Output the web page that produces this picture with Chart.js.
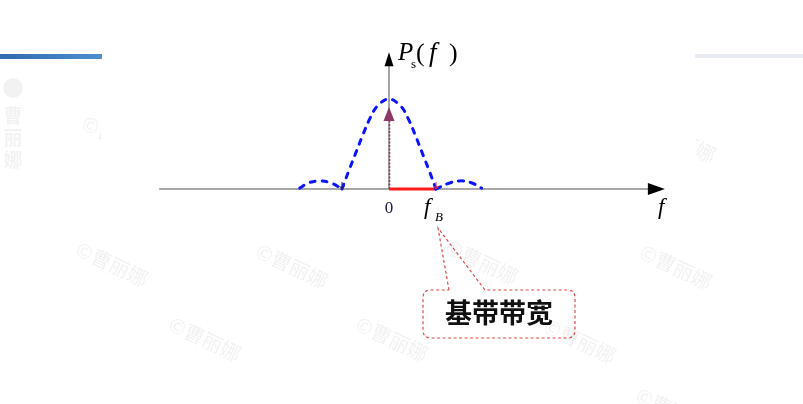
<!DOCTYPE html>
<html>
<head>
<meta charset="utf-8">
<script src="https://cdn.jsdelivr.net/npm/chart.js@4"></script>
<style>
  html, body { margin: 0; padding: 0; background: #ffffff; }
  #wrap { width: 803px; height: 404px; }
</style>
</head>
<body>
<div id="wrap"><canvas id="c" width="803" height="404"></canvas></div>
<script>
// ---- data (frequency in units of f_B, power normalised to peak) ----
const freqMain  = [-1, -0.85, -0.7, -0.55, -0.4, -0.25, 0, 0.25, 0.4, 0.55, 0.7, 0.85, 1];
const psdMain   = [0, 0.21, 0.41, 0.61, 0.79, 0.92, 1, 0.92, 0.79, 0.61, 0.41, 0.21, 0];
const freqLeftLobe  = [-1.9, -1.7, -1.45, -1.2, -1];
const psdLeftLobe   = [0.01, 0.07, 0.09, 0.06, 0];
const freqRightLobe = [1, 1.25, 1.5, 1.75, 1.97];
const psdRightLobe  = [0, 0.06, 0.09, 0.07, 0.01];
const deltaFreq   = [0];
const deltaHeight = [0.91];
const bandFreq  = [0, 1];
const bandLevel = [0, 0];
const tickLabels = ['0', 'f', 'B'];
const axisXRange = [-4.89, 5.87];
const axisYTop = 1.52;
const calloutText = '基带带宽';
const watermarkText = '©曹丽娜';

const toPts = (xs, ys) => xs.map((x, i) => ({ x: x, y: ys[i] }));

const blueStyle = {
  showLine: true, borderColor: '#0a14ff', borderWidth: 3, borderDash: [5, 7],
  borderCapStyle: 'round', pointRadius: 0, tension: 0.4, fill: false
};

const decorPlugin = {
  id: 'decor',
  beforeDatasetsDraw(chart) {
    const ctx = chart.ctx, xs = chart.scales.x, ys = chart.scales.y;
    ctx.save();
    // top decorative bars
    const g = ctx.createLinearGradient(0, 0, 102, 0);
    g.addColorStop(0, '#2f6cae'); g.addColorStop(1, '#4d8fd0');
    ctx.fillStyle = g; ctx.fillRect(0, 54, 102, 5);
    ctx.fillStyle = '#e8ebf1'; ctx.fillRect(695, 54, 108, 4);

    // watermarks
    ctx.fillStyle = 'rgba(0,0,0,0.06)';
    ctx.font = '20px "Noto Sans CJK SC"';
    ctx.textAlign = 'center'; ctx.textBaseline = 'middle';
    const wm = [[112, 264], [292, 266], [205, 339], [392, 339], [482, 262], [580, 341], [676, 267], [672, 410]];
    wm.forEach(p => {
      ctx.save(); ctx.translate(p[0], p[1]); ctx.rotate(0.44);
      ctx.fillText(watermarkText, 0, 0); ctx.restore();
    });
    // clipped watermarks at the edges of the central picture
    ctx.save(); ctx.beginPath(); ctx.rect(0, 0, 101, 404); ctx.clip();
    ctx.translate(118, 138); ctx.rotate(0.44); ctx.fillText(watermarkText, 0, 0); ctx.restore();
    ctx.save(); ctx.beginPath(); ctx.rect(696, 0, 110, 404); ctx.clip();
    ctx.translate(680, 140); ctx.rotate(0.44); ctx.fillText(watermarkText, 0, 0); ctx.restore();
    // left vertical watermark
    ctx.fillStyle = 'rgba(0,0,0,0.05)';
    ctx.beginPath(); ctx.arc(13, 88, 10, 0, Math.PI * 2); ctx.fill();
    ctx.font = 'bold 19px "Noto Sans CJK SC"';
    ['曹', '丽', '娜'].forEach((ch, i) => ctx.fillText(ch, 13, 116 + i * 22));

    // axes
    const ox = xs.getPixelForValue(0), oy = ys.getPixelForValue(0);
    const xl = xs.getPixelForValue(axisXRange[0]), xr = xs.getPixelForValue(axisXRange[1]);
    const yt = ys.getPixelForValue(axisYTop);
    ctx.strokeStyle = '#8a8a8a'; ctx.lineWidth = 1.6;
    ctx.beginPath(); ctx.moveTo(xl, oy); ctx.lineTo(xr - 14, oy); ctx.stroke();
    ctx.strokeStyle = '#6a6a6a'; ctx.lineWidth = 1.2;
    ctx.beginPath(); ctx.moveTo(ox, oy); ctx.lineTo(ox, yt + 12); ctx.stroke();
    ctx.fillStyle = '#000';
    ctx.beginPath(); ctx.moveTo(xr, oy); ctx.lineTo(xr - 17, oy - 6); ctx.lineTo(xr - 17, oy + 6); ctx.closePath(); ctx.fill();
    ctx.beginPath(); ctx.moveTo(ox, yt); ctx.lineTo(ox - 4.5, yt + 14); ctx.lineTo(ox + 4.5, yt + 14); ctx.closePath(); ctx.fill();

    // delta arrow (maroon)
    const dx = xs.getPixelForValue(deltaFreq[0]), dy = ys.getPixelForValue(deltaHeight[0]);
    ctx.strokeStyle = '#8b3a66'; ctx.lineWidth = 1.6; ctx.setLineDash([2, 1.5]);
    ctx.beginPath(); ctx.moveTo(dx + 0.5, oy); ctx.lineTo(dx + 0.5, dy + 12); ctx.stroke();
    ctx.setLineDash([]);
    ctx.fillStyle = '#8b3a66';
    ctx.beginPath(); ctx.moveTo(dx, dy); ctx.lineTo(dx - 5.5, dy + 14); ctx.lineTo(dx + 5.5, dy + 14); ctx.closePath(); ctx.fill();
    ctx.restore();
  },
  afterDatasetsDraw(chart) {
    const ctx = chart.ctx, xs = chart.scales.x, ys = chart.scales.y;
    const ox = xs.getPixelForValue(0), oy = ys.getPixelForValue(0);
    const fb = xs.getPixelForValue(bandFreq[1]);
    const yt = ys.getPixelForValue(axisYTop);
    const xr = xs.getPixelForValue(axisXRange[1]);
    ctx.save();
    // small zero markers
    ctx.lineWidth = 1;
    const zl = xs.getPixelForValue(freqLeftLobe[freqLeftLobe.length - 1]);
    [[zl, '#1a1a60'], [fb, '#ff2020']].forEach(m => {
      ctx.strokeStyle = m[1];
      ctx.beginPath(); ctx.moveTo(m[0], oy - 7); ctx.lineTo(m[0], oy);
      ctx.moveTo(m[0] - 2.5, oy - 3); ctx.lineTo(m[0], oy); ctx.lineTo(m[0] + 2.5, oy - 3); ctx.stroke();
    });

    // labels
    ctx.fillStyle = '#000'; ctx.textBaseline = 'alphabetic'; ctx.textAlign = 'left';
    ctx.font = 'italic 25px "Liberation Serif"';
    ctx.fillText('P', ox + 9, yt + 8);
    ctx.font = '13px "Liberation Serif"';
    ctx.fillText('s', ox + 22, yt + 16);
    ctx.font = '26px "Liberation Serif"';
    ctx.fillText('(', ox + 27, yt + 9);
    ctx.font = 'italic 27px "Liberation Serif"';
    ctx.fillText('f', ox + 40, yt + 9);
    ctx.font = '26px "Liberation Serif"';
    ctx.fillText(')', ox + 60, yt + 9);

    ctx.fillStyle = '#1a1a55';
    ctx.font = '17px "Liberation Serif"'; ctx.textAlign = 'center';
    ctx.fillText(tickLabels[0], ox, oy + 24);
    ctx.fillStyle = '#000';
    ctx.font = 'italic 23px "Liberation Serif"'; ctx.textAlign = 'left';
    ctx.fillText(tickLabels[1], fb - 12, oy + 25);
    ctx.font = 'italic 13px "Liberation Serif"';
    ctx.fillText(tickLabels[2], fb - 1, oy + 32);
    ctx.font = 'italic 23px "Liberation Serif"';
    ctx.fillText('f', xr - 7, oy + 25);

    // callout
    const tipX = fb + 2, tipY = oy + 39;
    const L = fb - 13, R = fb + 139, T = oy + 101, B = oy + 149, r = 8;
    const legA = fb + 13, legB = fb + 49;
    ctx.strokeStyle = '#e04a4a'; ctx.lineWidth = 1.2; ctx.setLineDash([3, 2.5]);
    ctx.beginPath();
    ctx.moveTo(legA, T);
    ctx.lineTo(tipX, tipY);
    ctx.lineTo(legB, T);
    ctx.lineTo(R - r, T); ctx.quadraticCurveTo(R, T, R, T + r);
    ctx.lineTo(R, B - r); ctx.quadraticCurveTo(R, B, R - r, B);
    ctx.lineTo(L + r, B); ctx.quadraticCurveTo(L, B, L, B - r);
    ctx.lineTo(L, T + r); ctx.quadraticCurveTo(L, T, L + r, T);
    ctx.lineTo(legA, T);
    ctx.stroke();
    ctx.setLineDash([]);
    ctx.fillStyle = '#111';
    ctx.font = 'bold 27px "Noto Sans CJK SC"'; ctx.textAlign = 'center'; ctx.textBaseline = 'middle';
    ctx.fillText(calloutText, (L + R) / 2 + 0, (T + B) / 2 - 1);
    ctx.restore();
  }
};

const pxPerX = 47, pxPerY = 90, originX = 389, originY = 189, W = 803, H = 404;

new Chart(document.getElementById('c'), {
  type: 'scatter',
  data: {
    datasets: [
      Object.assign({ data: toPts(freqMain, psdMain), order: 1 }, blueStyle),
      Object.assign({ data: toPts(freqLeftLobe, psdLeftLobe), order: 1 }, blueStyle),
      Object.assign({ data: toPts(freqRightLobe, psdRightLobe), order: 1 }, blueStyle),
      { data: toPts(bandFreq, bandLevel), showLine: true, borderColor: '#ff1a1a', borderWidth: 3.2,
        pointRadius: 0, order: 2, borderCapStyle: 'butt' }
    ]
  },
  options: {
    responsive: false, animation: false, events: [],
    layout: { padding: 0 },
    plugins: { legend: { display: false }, tooltip: { enabled: false } },
    scales: {
      x: { type: 'linear', display: false, min: -originX / pxPerX, max: (W - originX) / pxPerX },
      y: { type: 'linear', display: false, min: -(H - originY) / pxPerY, max: originY / pxPerY }
    }
  },
  plugins: [decorPlugin]
});
</script>
</body>
</html>
